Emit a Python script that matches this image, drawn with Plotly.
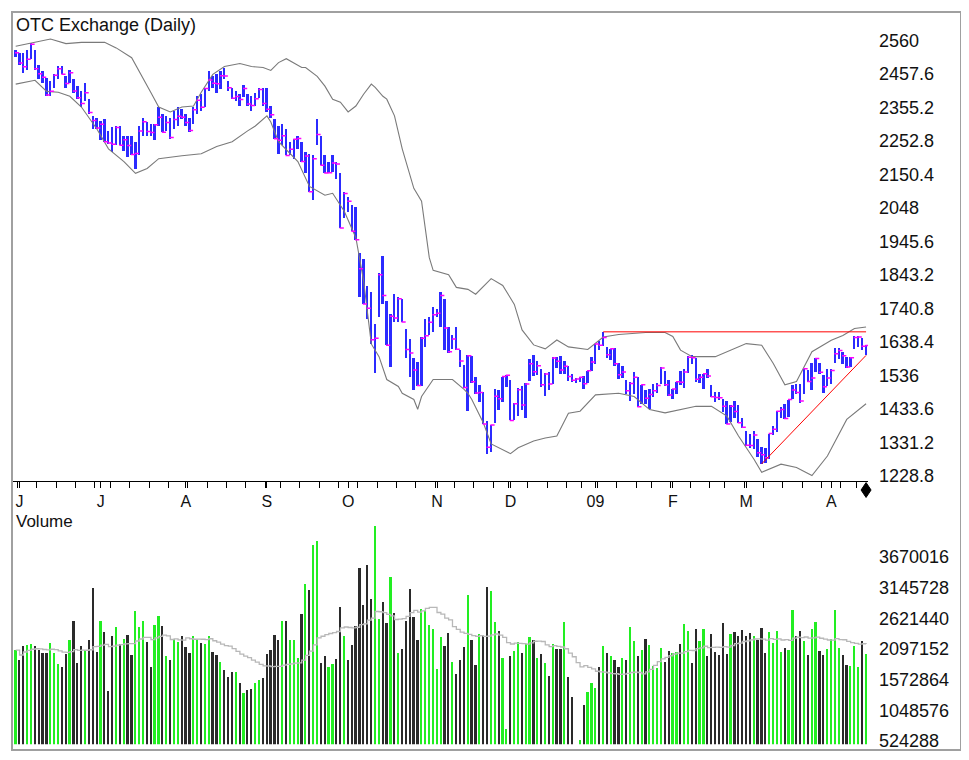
import pandas as pd
import plotly.graph_objects as go

# trading sessions 30 May 2008 .. 15 Apr 2009 (exchange holidays removed)
holidays = ["2008-07-04", "2008-09-01", "2008-11-27", "2008-12-25",
            "2009-01-01", "2009-01-19", "2009-02-16", "2009-04-10"]

high = [
    2533, 2523, 2523, 2533, 2553, 2533, 2487, 2467, 2447, 2437,
    2457, 2482, 2484, 2452, 2472, 2442, 2421, 2406, 2432, 2381,
    2331, 2325, 2315, 2320, 2285, 2295, 2300, 2300, 2270, 2270,
    2270, 2250, 2300, 2325, 2310, 2305, 2305, 2356, 2336, 2331,
    2325, 2346, 2356, 2351, 2336, 2325, 2356, 2391, 2396, 2416,
    2467, 2452, 2457, 2467, 2477, 2437, 2416, 2406, 2396, 2425,
    2396, 2391, 2401, 2416, 2416, 2416, 2361, 2320, 2300, 2305,
    2290, 2250, 2260, 2270, 2250, 2219, 2214, 2209, 2320, 2270,
    2209, 2189, 2209, 2189, 2154, 2098, 2083, 2058, 2050, 1911,
    1891, 1810, 1790, 1694, 1850, 1901, 1765, 1724, 1785, 1775,
    1770, 1679, 1648, 1588, 1578, 1653, 1709, 1714, 1744, 1739,
    1790, 1770, 1684, 1658, 1684, 1613, 1567, 1598, 1594, 1530,
    1506, 1484, 1397, 1385, 1495, 1490, 1532, 1536, 1522, 1452,
    1497, 1502, 1512, 1585, 1598, 1581, 1554, 1544, 1545, 1593,
    1593, 1595, 1580, 1564, 1541, 1527, 1532, 1535, 1550, 1591,
    1632, 1641, 1668, 1624, 1618, 1621, 1573, 1565, 1522, 1515,
    1545, 1531, 1507, 1490, 1495, 1508, 1513, 1563, 1549, 1522,
    1495, 1517, 1548, 1555, 1595, 1598, 1589, 1540, 1541, 1554,
    1505, 1484, 1485, 1463, 1459, 1446, 1457, 1444, 1404, 1365,
    1358, 1367, 1342, 1318, 1315, 1358, 1382, 1427, 1438, 1448,
    1462, 1506, 1510, 1510, 1556, 1552, 1575, 1588, 1575, 1537,
    1554, 1555, 1621, 1620, 1606, 1593, 1593, 1656, 1657, 1651,
    1628,
]
low = [
    2510, 2487, 2462, 2472, 2504, 2472, 2442, 2432, 2391, 2391,
    2416, 2442, 2457, 2416, 2432, 2401, 2381, 2356, 2376, 2336,
    2290, 2290, 2255, 2250, 2245, 2219, 2240, 2240, 2224, 2204,
    2209, 2169, 2209, 2270, 2270, 2270, 2255, 2300, 2280, 2285,
    2260, 2290, 2300, 2320, 2300, 2280, 2305, 2336, 2346, 2356,
    2406, 2416, 2401, 2411, 2442, 2406, 2381, 2376, 2361, 2389,
    2360, 2346, 2361, 2386, 2361, 2341, 2325, 2260, 2214, 2240,
    2209, 2209, 2199, 2229, 2189, 2154, 2098, 2073, 2240, 2179,
    2154, 2154, 2159, 2138, 1987, 2017, 2037, 1977, 1951, 1775,
    1754, 1709, 1633, 1542, 1714, 1754, 1628, 1562, 1699, 1699,
    1699, 1588, 1532, 1492, 1502, 1502, 1623, 1658, 1669, 1714,
    1684, 1613, 1603, 1618, 1613, 1562, 1497, 1428, 1512, 1478,
    1453, 1386, 1295, 1302, 1390, 1430, 1454, 1500, 1398, 1400,
    1413, 1430, 1405, 1519, 1535, 1537, 1500, 1473, 1491, 1508,
    1557, 1541, 1540, 1520, 1515, 1514, 1517, 1493, 1513, 1549,
    1570, 1613, 1626, 1590, 1584, 1565, 1525, 1527, 1479, 1456,
    1480, 1440, 1447, 1449, 1433, 1470, 1483, 1511, 1503, 1473,
    1463, 1478, 1507, 1496, 1544, 1572, 1516, 1513, 1493, 1528,
    1469, 1453, 1462, 1424, 1387, 1393, 1405, 1390, 1376, 1320,
    1315, 1310, 1285, 1264, 1269, 1281, 1353, 1363, 1405, 1403,
    1410, 1463, 1479, 1451, 1480, 1515, 1490, 1545, 1540, 1483,
    1502, 1510, 1575, 1585, 1570, 1557, 1561, 1616, 1623, 1613,
    1597,
]
close = [
    2523, 2492, 2480, 2503, 2549, 2474, 2459, 2448, 2394, 2405,
    2454, 2474, 2457, 2429, 2462, 2406, 2385, 2368, 2401, 2340,
    2316, 2293, 2304, 2251, 2247, 2243, 2294, 2240, 2257, 2239,
    2212, 2215, 2284, 2312, 2282, 2279, 2303, 2326, 2280, 2310,
    2264, 2319, 2329, 2326, 2310, 2285, 2349, 2378, 2356, 2414,
    2440, 2430, 2428, 2453, 2452, 2416, 2384, 2389, 2380, 2414,
    2366, 2362, 2382, 2411, 2368, 2350, 2333, 2260, 2255, 2269,
    2209, 2228, 2258, 2261, 2190, 2207, 2098, 2199, 2273, 2179,
    2155, 2156, 2186, 2183, 1987, 2092, 2069, 1977, 1951, 1862,
    1754, 1741, 1645, 1649, 1844, 1780, 1628, 1717, 1711, 1770,
    1699, 1615, 1604, 1552, 1505, 1649, 1657, 1698, 1721, 1726,
    1780, 1681, 1608, 1647, 1616, 1580, 1499, 1596, 1516, 1482,
    1483, 1387, 1316, 1384, 1472, 1464, 1532, 1536, 1398, 1449,
    1492, 1445, 1509, 1571, 1547, 1565, 1507, 1540, 1509, 1589,
    1579, 1552, 1564, 1532, 1521, 1525, 1530, 1510, 1550, 1577,
    1632, 1628, 1652, 1599, 1617, 1571, 1538, 1546, 1489, 1511,
    1530, 1440, 1507, 1466, 1477, 1489, 1505, 1558, 1507, 1476,
    1494, 1516, 1515, 1546, 1591, 1590, 1524, 1530, 1541, 1534,
    1470, 1468, 1467, 1441, 1387, 1441, 1425, 1391, 1377, 1322,
    1321, 1353, 1299, 1293, 1284, 1358, 1371, 1426, 1431, 1404,
    1462, 1491, 1483, 1457, 1556, 1517, 1528, 1587, 1545, 1501,
    1528, 1551, 1602, 1612, 1596, 1561, 1590, 1652, 1653, 1625,
    1627,
]
# volume in millions
volume_m = [
    2.080, 1.911, 2.148, 2.154, 2.176, 2.142, 2.080, 2.024, 2.024, 2.199,
    2.024, 1.827, 1.787, 2.001, 2.238, 2.565, 1.860, 2.148, 2.069, 2.238,
    3.140, 2.041, 2.576, 2.390, 1.376, 2.306, 2.475, 2.182, 2.255, 2.323,
    1.984, 2.734, 2.464, 2.576, 2.210, 1.787, 2.503, 2.661, 2.486, 1.967,
    1.911, 2.266, 2.216, 2.306, 2.125, 2.024, 2.311, 2.238, 2.193, 2.182,
    2.306, 2.041, 1.984, 1.872, 1.731, 1.607, 1.691, 1.691, 1.516, 1.336,
    1.392, 1.409, 1.505, 1.562, 1.590, 2.001, 2.069, 2.323, 2.238, 2.565,
    2.576, 2.238, 2.249, 1.945, 2.689, 3.208, 3.101, 3.862, 3.929, 1.860,
    1.967, 1.776, 1.827, 1.928, 2.813, 2.306, 1.900, 2.165, 2.486, 3.467,
    2.836, 3.518, 2.943, 4.183, 2.599, 2.886, 2.531, 3.320, 2.712, 2.024,
    2.097, 2.576, 3.118, 2.633, 2.238, 2.774, 2.746, 2.503, 2.435, 1.748,
    2.294, 2.148, 2.362, 1.872, 1.657, 1.900, 2.125, 3.016, 2.238, 1.821,
    2.351, 2.306, 3.157, 3.084, 2.548, 2.407, 1.945, 0.727, 1.967, 2.058,
    2.210, 2.024, 2.182, 2.294, 2.238, 1.945, 2.001, 1.855, 1.629, 2.182,
    2.097, 2.097, 2.548, 1.618, 1.280, 0.400, 0.536, 1.139, 1.364, 1.516,
    1.421, 1.776, 2.142, 2.024, 1.967, 1.911, 1.787, 1.945, 1.911, 2.464,
    2.221, 1.967, 2.080, 2.266, 2.154, 1.804, 1.770, 2.114, 1.872, 2.058,
    2.024, 2.041, 2.182, 2.520, 2.407, 1.860, 2.435, 2.221, 2.435, 1.967,
    2.340, 2.035, 1.984, 2.531, 2.001, 2.351, 2.390, 2.311, 2.419, 2.311,
    2.362, 2.306, 2.238, 2.452, 2.024, 2.379, 2.199, 2.396, 2.041, 2.114,
    2.080, 2.757, 2.306, 2.402, 2.221, 1.984, 2.435, 2.559, 2.058, 1.984,
    2.097, 2.266, 2.757, 2.103, 1.984, 1.815, 1.798, 2.142, 1.787, 2.221,
    2.001,
]

# bollinger bands (session number -> value)
upper_band_session = [
    0, 4, 9, 13, 17, 23, 26, 30, 32, 35, 37, 40, 43, 46, 48,
    51, 54, 58, 61, 64, 66, 68, 70, 74, 75, 78, 80, 82, 84, 86,
    88, 90, 92, 93, 95, 96, 98, 100, 103, 105, 107, 108, 112, 114, 117,
    119, 123, 126, 129, 131, 134, 137, 140, 143, 148, 152, 156, 163, 168,
    170, 172, 175, 181, 185, 189, 193, 196, 199, 202, 206, 211, 214, 217, 220,
]
upper_band = [
    2543, 2553, 2565, 2551, 2555, 2555, 2538, 2508, 2467, 2401, 2357, 2342, 2357, 2360, 2402,
    2457, 2481, 2490, 2481, 2478, 2469, 2493, 2505, 2478, 2478, 2451, 2421, 2381, 2372, 2342,
    2360, 2396, 2427, 2417, 2390, 2381, 2330, 2229, 2108, 2069, 1896, 1857, 1844, 1805, 1799,
    1784, 1832, 1811, 1753, 1675, 1629, 1617, 1644, 1623, 1615, 1653, 1661, 1667, 1667,
    1655, 1613, 1593, 1593, 1613, 1633, 1628, 1572, 1507, 1517, 1608, 1643, 1658, 1679, 1684,
]
lower_band_session = [
    0, 5, 8, 11, 14, 17, 21, 24, 28, 31, 34, 37, 43, 48, 52,
    56, 60, 62, 65, 66, 68, 73, 76, 80, 82, 85, 88, 90, 92, 94,
    96, 99, 100, 103, 104, 105, 108, 113, 116, 117, 118, 121, 123, 128, 130,
    134, 137, 140, 143, 146, 150, 156, 160, 164, 168, 172, 176, 180, 184,
    187, 191, 193, 198, 202, 206, 210, 215, 220,
]
lower_band = [
    2427, 2439, 2405, 2402, 2390, 2357, 2290, 2229, 2190, 2154, 2169, 2199, 2208, 2214, 2236,
    2251, 2284, 2299, 2330, 2311, 2251, 2190, 2114, 2087, 2093, 2038, 1957, 1826, 1632, 1593,
    1523, 1502, 1481, 1462, 1432, 1471, 1523, 1523, 1493, 1481, 1462, 1390, 1326, 1296, 1314,
    1335, 1344, 1350, 1420, 1426, 1476, 1481, 1471, 1431, 1421, 1431, 1441, 1441, 1411,
    1350, 1279, 1239, 1264, 1254, 1229, 1289, 1401, 1449,
]

resistance_dates = ["2009-01-06", "2009-04-15"]
resistance_values = [1669, 1669]
support_dates = ["2009-03-06", "2009-04-15"]
support_values = [1265, 1597]

price_ticks = [1228.8, 1331.2, 1433.6, 1536, 1638.4, 1740.8, 1843.2,
               1945.6, 2048, 2150.4, 2252.8, 2355.2, 2457.6, 2560]
volume_ticks = [524288, 1048576, 1572864, 2097152, 2621440, 3145728, 3670016]
month_labels = ["J", "J", "A", "S", "O", "N", "D", "09", "F", "M", "A"]

W, H = 969, 760
PAGE_OFFSET = 8  # the page body margin shifts the figure by this much
FONT = "Liberation Sans, Arial, sans-serif"


def fx(px):
    return (px - PAGE_OFFSET) / W


def fy(py):
    return 1 - (py - PAGE_OFFSET) / H


dates = pd.bdate_range("2008-05-30", "2009-04-15")
dates = dates[~dates.isin(pd.to_datetime(holidays))]
session = list(range(len(dates)))
pos = {d.strftime("%Y-%m-%d"): i for i, d in enumerate(dates)}

# x ticks: a tick before each new week, a labelled tick on each month's first session
weeks = dates.to_period("W")
month_first = [i for i in session[1:] if dates[i].month != dates[i - 1].month]
week_first = [i - 0.5 for i in session[1:] if weeks[i] != weeks[i - 1]]
label_of = dict(zip(month_first, month_labels))
tickvals = sorted(set(month_first) | set(week_first))
ticktext = [label_of.get(v, "") for v in tickvals]

volume = pd.Series(volume_m) * 1e6
volume_avg = volume.rolling(20, min_periods=1).mean()
up = [True] + [close[i] >= close[i - 1] for i in session[1:]]
vol_colors = ["#22ee22" if u else "#2a2a2a" for u in up]

# axis ranges, pixel-matched to the panels
price_range = [1213.7, 2644.9]
volume_range = [473550, 4549463]
x_range = [-0.7, 220.5]
x_dom = [fx(13), fx(868)]

fig = go.Figure()

fig.add_trace(go.Scatter(
    x=upper_band_session, y=upper_band, mode="lines",
    line=dict(color="#7a7a7a", width=1.1), hoverinfo="skip"))
fig.add_trace(go.Scatter(
    x=lower_band_session, y=lower_band, mode="lines",
    line=dict(color="#7a7a7a", width=1.1), hoverinfo="skip"))

fig.add_trace(go.Bar(
    x=session, y=[h - l for h, l in zip(high, low)], base=low,
    width=0.5, marker=dict(color="#2b2bff", line=dict(width=0))))
fig.add_trace(go.Scatter(
    x=[s + 0.35 for s in session], y=close, mode="markers",
    marker=dict(symbol="line-ew", size=3,
                line=dict(color="#ff00ff", width=1.5)),
    hoverinfo="skip"))

fig.add_trace(go.Scatter(
    x=[pos[d] for d in resistance_dates], y=resistance_values, mode="lines",
    line=dict(color="#ff0000", width=1), hoverinfo="skip"))
fig.add_trace(go.Scatter(
    x=[pos[d] for d in support_dates], y=support_values, mode="lines",
    line=dict(color="#ff0000", width=1), hoverinfo="skip"))

fig.add_trace(go.Bar(
    x=session, y=volume, width=0.45, xaxis="x2", yaxis="y2",
    marker=dict(color=vol_colors, line=dict(width=0))))
fig.add_trace(go.Scatter(
    x=session, y=volume_avg, mode="lines", line_shape="hv",
    line=dict(color="#b8b8b8", width=1.3), xaxis="x2", yaxis="y2",
    hoverinfo="skip"))

# diamond marking the last session, just below the date axis
last_x = x_dom[0] + (session[-1] - x_range[0]) / (x_range[1] - x_range[0]) * (x_dom[1] - x_dom[0])
half_w = 5 / W
diamond = (f"M {last_x},{fy(487)} L {last_x + half_w},{fy(494.5)} "
           f"L {last_x},{fy(502)} L {last_x - half_w},{fy(494.5)} Z")

fig.update_layout(
    width=W, height=H,
    margin=dict(l=0, r=0, t=0, b=0),
    paper_bgcolor="white", plot_bgcolor="white",
    showlegend=False, barmode="overlay", bargap=0,
    font=dict(family=FONT, size=18, color="#111111"),
    xaxis=dict(
        domain=x_dom, range=x_range, anchor="y",
        tickmode="array", tickvals=tickvals, ticktext=ticktext, tickangle=0,
        ticks="outside", ticklen=6, tickwidth=1, tickcolor="black",
        tickfont=dict(size=16),
        showline=True, linecolor="black", linewidth=1,
        showgrid=False, zeroline=False,
    ),
    yaxis=dict(
        domain=[fy(485), fy(13)], range=price_range, anchor="x",
        side="right", tickmode="array", tickvals=price_ticks,
        ticktext=[f"{v:g}" for v in price_ticks],
        ticks="", ticklabelstandoff=10,
        showline=False, showgrid=False, zeroline=False,
    ),
    xaxis2=dict(
        domain=x_dom, range=x_range, anchor="y2", matches="x",
        showticklabels=False, ticks="", showline=False,
        showgrid=False, zeroline=False,
    ),
    yaxis2=dict(
        domain=[fy(751), fy(510)], range=volume_range, anchor="x2",
        side="right", tickmode="array", tickvals=volume_ticks,
        ticktext=[str(v) for v in volume_ticks],
        ticks="", ticklabelstandoff=10,
        showline=False, showgrid=False, zeroline=False,
    ),
    annotations=[
        dict(text="OTC Exchange (Daily)", x=fx(14), y=fy(25),
             xref="paper", yref="paper", xanchor="left", yanchor="middle",
             showarrow=False, font=dict(size=18)),
        dict(text="Volume", x=fx(14), y=fy(515),
             xref="paper", yref="paper", xanchor="left", yanchor="top",
             showarrow=False, font=dict(size=17)),
    ],
    shapes=[
        dict(type="rect", xref="paper", yref="paper",
             x0=fx(12), x1=fx(961), y0=fy(757), y1=fy(12),
             line=dict(color="#a0a0a0", width=2)),
        dict(type="path", xref="paper", yref="paper", path=diamond,
             fillcolor="black", line=dict(color="black", width=1)),
    ],
)

fig.write_html("out.html")
